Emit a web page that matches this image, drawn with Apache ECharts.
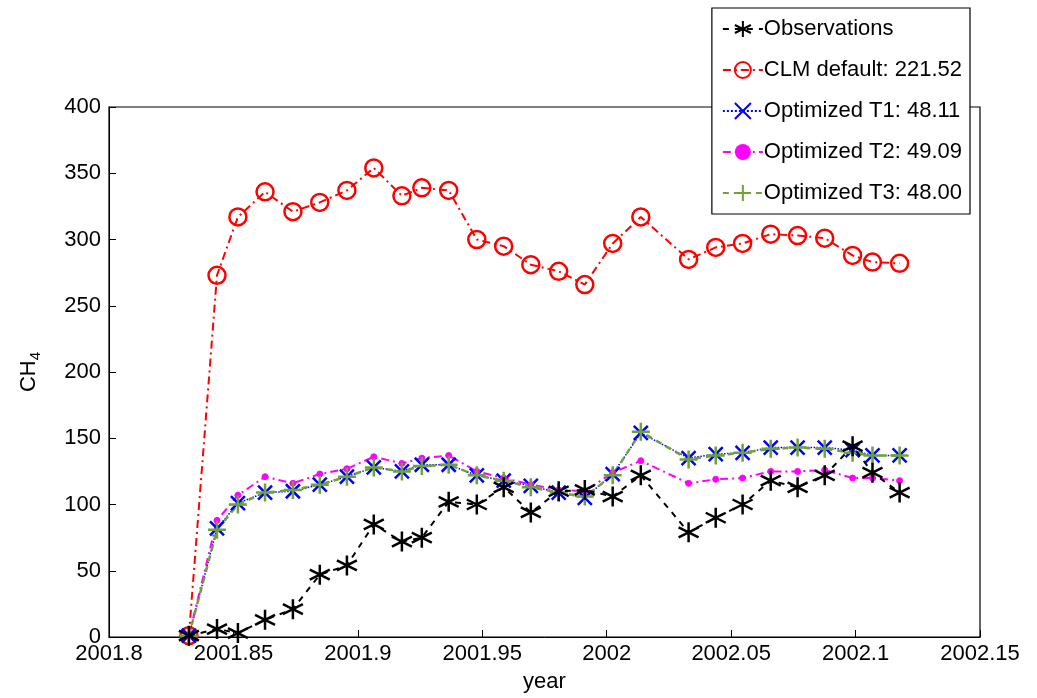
<!DOCTYPE html>
<html><head><meta charset="utf-8">
<script src="https://cdn.jsdelivr.net/npm/echarts@6/dist/echarts.min.js"></script>
<style>html,body{margin:0;padding:0;background:#fff}#c{width:1037px;height:698px}</style>
</head><body><div id="c"></div>
<script>
const years=[2001.8321,2001.8434,2001.8518,2001.8627,2001.8739,2001.8847,2001.8956,2001.9064,2001.9177,2001.9257,2001.9365,2001.9478,2001.9586,2001.9695,2001.9807,2001.9912,2002.0024,2002.0137,2002.0329,2002.0438,2002.0546,2002.0659,2002.0767,2002.0876,2002.0988,2002.1068,2002.1177];
const obs=[1,6,3,13,21,47,54,85,72,75,102,100,113,94,110,111,106,122,79,90,100,118,113,122,144,124,109];
const clm=[1,273,317,336,321,328,337,354,333,339,337,300,295,281,276,266,297,317,285,294,297,304,303,301,288,283,282];
const t1=[1,82,101,109,110,115,121,128,125,130,130,122,118,114,109,105,123,154,135,138,139,143,143,143,141,137,137];
const t2=[1,88,107,121,116,123,127,136,131,135,137,125,120,115,111,110,124,133,116,119,120,125,125,126,120,120,118];
const t3=[1,81,100,109,111,115,121,128,125,129,130,122,118,113,109,106,122,155,134,137,139,142,143,142,139,137,137];
const names=['Observations','CLM default: 221.52','Optimized T1: 48.11','Optimized T2: 49.09','Optimized T3: 48.00'];
const pair=a=>years.map((x,i)=>[x,a[i]]);
const star='path://M0,-10L0,10M-8.7,-5L8.7,5M-8.7,5L8.7,-5';
const cross='path://M-7,-7L7,7M-7,7L7,-7';
const plus='path://M0,-8L0,8M-8,0L8,0';
const ch=echarts.init(document.getElementById('c'));
const F='Liberation Sans, Arial';
ch.setOption({
 animation:false,
 textStyle:{fontFamily:F},
 grid:{left:109,right:57,top:107,bottom:61,show:true,borderColor:'#000',borderWidth:1.2},
 xAxis:{type:'value',min:2001.8,max:2002.15,interval:0.05,
  axisLine:{lineStyle:{color:'#000'}},axisTick:{inside:true,length:7,lineStyle:{color:'#000'}},
  splitLine:{show:false},
  axisLabel:{color:'#000',fontSize:22,margin:6,formatter:v=>String(+v.toFixed(2))},
  name:'year',nameLocation:'middle',nameGap:34,nameTextStyle:{color:'#000',fontSize:22}},
 yAxis:{type:'value',min:0,max:400,interval:50,
  axisLine:{lineStyle:{color:'#000'}},axisTick:{inside:true,length:7,lineStyle:{color:'#000'}},
  splitLine:{show:false},axisLabel:{color:'#000',fontSize:22,margin:8},
  name:'{a|CH}{b|4}',nameLocation:'middle',nameGap:66,
  nameTextStyle:{rich:{a:{fontSize:22,color:'#000',fontFamily:F},b:{fontSize:15,color:'#000',fontFamily:F,verticalAlign:'bottom',padding:[14,0,0,0]}}}},
 legend:{orient:'vertical',right:67,top:8,backgroundColor:'#fff',borderColor:'#000',borderWidth:1.2,
  padding:[10,8,10,10],itemGap:19,itemWidth:40,itemHeight:20,textStyle:{fontSize:22,color:'#000',padding:[0,0,0,-4]},
  data:names},
 series:[
  {name:names[0],type:'line',data:pair(obs),symbol:star,symbolSize:20,z:5,
   lineStyle:{color:'#000',width:2,type:[6,6]},itemStyle:{color:'none',borderColor:'#000',borderWidth:2.5}},
  {name:names[1],type:'line',data:pair(clm),symbol:'circle',symbolSize:17,
   lineStyle:{color:'#f00',width:2,type:[8,4,2,4]},itemStyle:{color:'rgba(255,255,255,0)',borderColor:'#f00',borderWidth:2.5}},
  {name:names[2],type:'line',data:pair(t1),symbol:cross,symbolSize:14,
   lineStyle:{color:'#00f',width:1.5,type:'dotted'},itemStyle:{color:'none',borderColor:'#00f',borderWidth:2.5}},
  {name:names[3],type:'line',data:pair(t2),symbol:'circle',symbolSize:6,
   lineStyle:{color:'#f0f',width:2,type:[8,4,2,4]},itemStyle:{color:'#f0f',borderColor:'#f0f'}},
  {name:names[4],type:'line',data:pair(t3),symbol:plus,symbolSize:18,
   lineStyle:{color:'#6fa33a',width:2.5,type:[6,5]},itemStyle:{color:'none',borderColor:'#6fa33a',borderWidth:2.5}}
 ]
});
</script></body></html>
